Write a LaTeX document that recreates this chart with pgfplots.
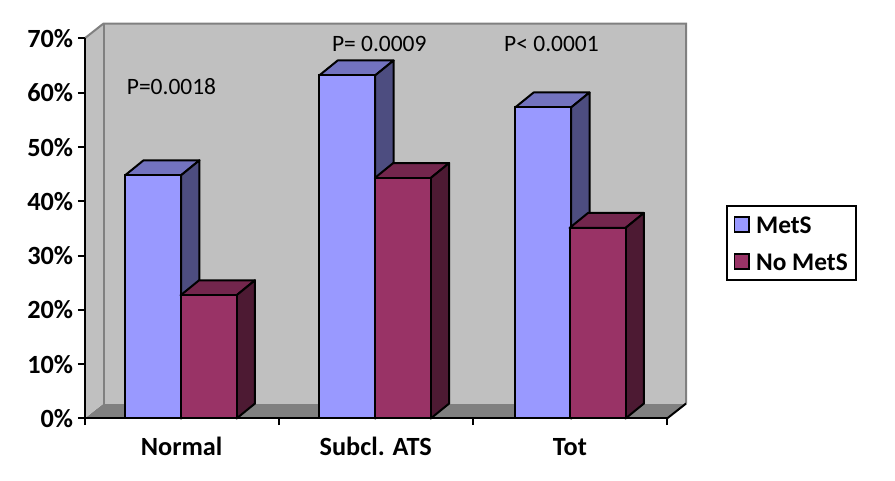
\documentclass[border=0pt]{standalone}
\usepackage{fontspec}
\setmainfont{Carlito}
\usepackage{pgfplots}
\pgfplotsset{compat=1.18}
\definecolor{mets}{HTML}{9999FF}
\definecolor{metstop}{HTML}{7373BF}
\definecolor{metsside}{HTML}{4D4D80}
\definecolor{nomets}{HTML}{993366}
\definecolor{nometstop}{HTML}{73264D}
\definecolor{nometsside}{HTML}{4D1A33}
\definecolor{wall}{HTML}{C0C0C0}
\definecolor{floorc}{HTML}{808080}
\newcommand{\depthx}{0.095}
\newcommand{\depthy}{2.76}
\newcommand{\halfw}{0.144}
% top and side faces of one bar: centre, value, colours
\newcommand{\barfaces}[4]{%
  \pgfmathsetmacro{\xl}{#1-\halfw}%
  \pgfmathsetmacro{\xr}{#1+\halfw}%
  \pgfmathsetmacro{\xlb}{\xl+\depthx}%
  \pgfmathsetmacro{\xrb}{\xr+\depthx}%
  \pgfmathsetmacro{\vb}{#2+\depthy}%
  \edef\temp{\noexpand\addplot[forget plot,fill=#3,draw=black,line width=1.5pt,line join=round]
    coordinates {(\xl,#2) (\xr,#2) (\xrb,\vb) (\xlb,\vb)} -- cycle;
    \noexpand\addplot[forget plot,fill=#4,draw=black,line width=1.5pt,line join=round]
    coordinates {(\xr,0) (\xrb,\depthy) (\xrb,\vb) (\xr,#2)} -- cycle;}%
  \temp}
\begin{document}
\begin{tikzpicture}[x=1pt,y=1pt]
\useasboundingbox (0,0) rectangle (671.25pt,360.75pt);
\begin{axis}[
  at={(63.375pt,46.875pt)},
  anchor=origin,
  scale only axis,
  width=436.9pt,
  height=285pt,
  xmin=0, xmax=3,
  ymin=0, ymax=70,
  clip=false,
  axis on top,
  axis x line*=bottom,
  axis y line*=left,
  axis line style={black,line width=1.5pt,-},
  tick align=outside,
  major tick length=5pt,
  tick style={black,line width=1.5pt},
  xtick={0,1,2,3},
  xticklabels={},
  extra x ticks={0.5,1.5,2.5},
  extra x tick labels={Normal,Subcl. ATS,Tot},
  extra x tick style={major tick length=0pt,
    tick label style={yshift=-10pt,text height=14pt,text depth=3pt}},
  ytick={0,10,...,70},
  yticklabel={\pgfmathprintnumber{\tick}\%},
  /pgf/number format/assume math mode=true,
  tick label style={font=\fontsize{19.7}{23}\selectfont\bfseries},
  legend style={
    at={(1.1013,0.5618)},
    anchor=north west,
    draw=black,
    line width=1.2pt,
    font=\fontsize{19}{23}\selectfont\bfseries,
    inner xsep=4pt,
    inner ysep=4pt,
    row sep=7.75pt,
    nodes={text height=15pt,text depth=1pt},
  },
  legend cell align=left,
  legend image code/.code={
    \path (0pt,0pt) (14.5pt,0pt);
    \draw[#1,line width=1.2pt] (1pt,-5.5pt) rectangle (12pt,5.5pt);},
]
% walls and floor
\addplot[forget plot,fill=floorc,draw=none] coordinates {(0,0) (3,0) (3.098,2.76) (0.098,2.76)} -- cycle;
\addplot[forget plot,fill=wall,draw=none] coordinates {(0.098,2.76) (3.098,2.76) (3.098,72.76) (0.098,72.76)} -- cycle;
\addplot[forget plot,fill=wall,draw=none] coordinates {(0,0) (0.098,2.76) (0.098,72.76) (0,70)} -- cycle;
\addplot[forget plot,draw=floorc,line width=1.5pt] coordinates {(0,70) (0.098,72.76) (3.098,72.76) (3.098,2.76)};
\addplot[forget plot,draw=floorc,line width=1.5pt] coordinates {(0.098,2.76) (0.098,72.76)};
\addplot[forget plot,draw=black,line width=1.5pt] coordinates {(3,0) (3.098,2.76)};

\barfaces{0.353}{44.8}{metstop}{metsside}
\barfaces{1.353}{63.2}{metstop}{metsside}
\barfaces{2.362}{57.3}{metstop}{metsside}
\addplot[ybar,bar width=42pt,bar shift=0pt,fill=mets,draw=black,line width=1.5pt]
  coordinates {(0.353,44.8) (1.353,63.2) (2.362,57.3)};
\barfaces{0.639}{22.7}{nometstop}{nometsside}
\barfaces{1.639}{44.3}{nometstop}{nometsside}
\barfaces{2.642}{35.1}{nometstop}{nometsside}
\addplot[ybar,bar width=42pt,bar shift=0pt,fill=nomets,draw=black,line width=1.5pt]
  coordinates {(0.639,22.7) (1.639,44.3) (2.642,35.1)};
\legend{MetS,No MetS}

\node[font=\fontsize{17.6}{21}\selectfont] at (axis cs:0.448,61.2) {P=0.0018};
\node[font=\fontsize{17.6}{21}\selectfont] at (axis cs:1.518,69) {P= 0.0009};
\node[font=\fontsize{17.6}{21}\selectfont] at (axis cs:2.405,69) {P< 0.0001};
\end{axis}
\end{tikzpicture}
\end{document}
